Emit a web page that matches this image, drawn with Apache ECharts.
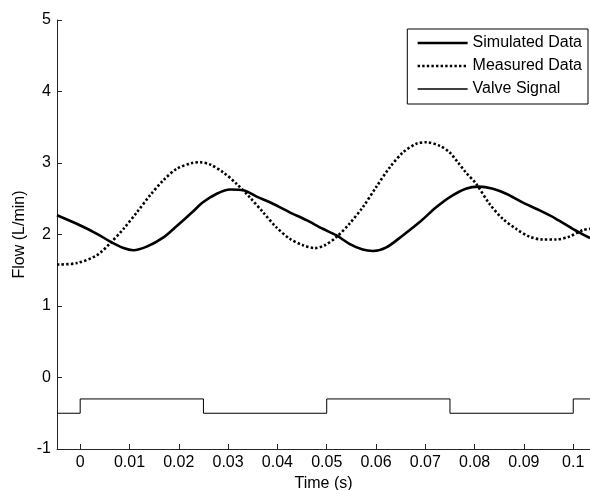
<!DOCTYPE html>
<html>
<head>
<meta charset="utf-8">
<script src="https://cdn.jsdelivr.net/npm/echarts@6/dist/echarts.min.js"></script>
<style>
  html, body { margin: 0; padding: 0; background: #fff; }
  #chart { width: 590px; height: 490px; }
</style>
</head>
<body>
<div id="chart"></div>
<script>
// Flow through the valve over time: simulated vs. measured, plus the valve command signal.
const simulatedData = [
  [-0.0047, 2.27], [-0.0007, 2.15], [0.0034, 2.01], [0.0061, 1.90], [0.0088, 1.81],
  [0.0108, 1.78], [0.0135, 1.83], [0.0169, 1.96], [0.0196, 2.12], [0.0227, 2.31],
  [0.0249, 2.45], [0.0277, 2.57], [0.0304, 2.63], [0.0331, 2.62], [0.0358, 2.53],
  [0.0391, 2.43], [0.0425, 2.31], [0.0459, 2.20], [0.0492, 2.08], [0.0519, 1.99],
  [0.0546, 1.87], [0.0573, 1.79], [0.0594, 1.77], [0.0621, 1.82], [0.0655, 1.99],
  [0.0688, 2.17], [0.0722, 2.38], [0.0749, 2.52], [0.0782, 2.64], [0.0809, 2.67],
  [0.0837, 2.64], [0.0864, 2.57], [0.0897, 2.45], [0.0931, 2.34], [0.0965, 2.22],
  [0.0999, 2.08], [0.1034, 1.95]
];

const measuredData = [
  [-0.0047, 1.58], [-0.0007, 1.60], [0.0034, 1.71], [0.0061, 1.88], [0.0088, 2.08],
  [0.0115, 2.31], [0.0142, 2.55], [0.0169, 2.76], [0.0196, 2.92], [0.0227, 3.00],
  [0.0243, 3.01], [0.0263, 2.98], [0.0290, 2.87], [0.0317, 2.71], [0.0344, 2.52],
  [0.0371, 2.31], [0.0398, 2.10], [0.0425, 1.94], [0.0452, 1.85], [0.0476, 1.81],
  [0.0496, 1.85], [0.0519, 1.96], [0.0546, 2.15], [0.0573, 2.38], [0.0600, 2.66],
  [0.0628, 2.94], [0.0655, 3.15], [0.0682, 3.27], [0.0702, 3.29], [0.0729, 3.24],
  [0.0749, 3.15], [0.0766, 3.01], [0.0782, 2.87], [0.0803, 2.71], [0.0830, 2.43],
  [0.0857, 2.22], [0.0884, 2.08], [0.0911, 1.97], [0.0938, 1.93], [0.0965, 1.93],
  [0.0992, 1.97], [0.1019, 2.06], [0.1034, 2.08]
];

// Valve signal: switches between -0.5 (closed) and -0.3 (open)
const valveTimes  = [-0.0047, 0, 0, 0.025, 0.025, 0.05, 0.05, 0.075, 0.075, 0.1, 0.1, 0.1034];
const valveLevels = [-0.5, -0.5, -0.3, -0.3, -0.5, -0.5, -0.3, -0.3, -0.5, -0.5, -0.3, -0.3];

const timeTicks = [0, 0.01, 0.02, 0.03, 0.04, 0.05, 0.06, 0.07, 0.08, 0.09, 0.1];
const timeTickLabels = ['0', '0.01', '0.02', '0.03', '0.04', '0.05', '0.06', '0.07', '0.08', '0.09', '0.1'];

const seriesNames = ['Simulated Data', 'Measured Data', 'Valve Signal'];

const FONT = 'Liberation Sans, Arial, sans-serif';
const axisColor = '#262626';
const THICK = 2.6;
const dotPattern = [2.4, 2.2];

const valveData = valveTimes.map((t, i) => [t, valveLevels[i]]);

const chart = echarts.init(document.getElementById('chart'), null, { renderer: 'canvas' });

chart.setOption({
  backgroundColor: '#ffffff',
  animation: false,
  textStyle: { fontFamily: FONT },
  grid: { left: 57, right: 0, top: 20, bottom: 41, containLabel: false, outerBoundsMode: 'none' },
  legend: {
    data: [
      { name: seriesNames[0], lineStyle: { width: THICK } },
      { name: seriesNames[1], lineStyle: { width: THICK, type: dotPattern } },
      { name: seriesNames[2], lineStyle: { width: 1.5, color: '#000' } }
    ],
    orient: 'vertical',
    right: 2,
    top: 29,
    itemWidth: 50,
    itemHeight: 16,
    itemGap: 7,
    padding: [6, 6, 7, 9],
    borderColor: '#000',
    borderWidth: 1,
    backgroundColor: '#fff',
    itemStyle: { opacity: 0 },
    textStyle: { fontFamily: FONT, fontSize: 16, color: '#000' }
  },
  xAxis: {
    type: 'value',
    min: -0.0047,
    max: 0.1034,
    name: 'Time (s)',
    nameLocation: 'middle',
    nameGap: 27,
    nameMoveOverlap: false,
    nameTextStyle: { fontFamily: FONT, fontSize: 16, color: '#000' },
    splitLine: { show: false },
    axisLine: { show: true, onZero: false, lineStyle: { color: axisColor, width: 1 } },
    axisTick: {
      show: true, inside: true, length: 5,
      customValues: timeTicks,
      lineStyle: { color: axisColor }
    },
    axisLabel: {
      customValues: timeTicks,
      margin: 6,
      fontFamily: FONT, fontSize: 16, color: '#000',
      formatter: (v) => {
        const i = timeTicks.findIndex(t => Math.abs(t - v) < 1e-9);
        return i >= 0 ? timeTickLabels[i] : '';
      }
    }
  },
  yAxis: {
    type: 'value',
    min: -1,
    max: 5,
    interval: 1,
    name: 'Flow (L/min)',
    nameLocation: 'middle',
    nameGap: 29,
    nameMoveOverlap: false,
    nameTextStyle: { fontFamily: FONT, fontSize: 16, color: '#000' },
    splitLine: { show: false },
    axisLine: { show: true, onZero: false, lineStyle: { color: axisColor, width: 1 } },
    axisTick: { show: true, inside: true, length: 5, lineStyle: { color: axisColor } },
    axisLabel: { margin: 6, fontFamily: FONT, fontSize: 16, color: '#000' }
  },
  series: [
    {
      name: seriesNames[0],
      type: 'line',
      data: simulatedData,
      symbol: 'none',
      smooth: 0.3,
      clip: true,
      lineStyle: { color: '#000', width: THICK },
      itemStyle: { color: '#000' },
      z: 3
    },
    {
      name: seriesNames[1],
      type: 'line',
      data: measuredData,
      symbol: 'none',
      smooth: 0.3,
      clip: true,
      lineStyle: { color: '#000', width: THICK, type: dotPattern, cap: 'butt' },
      itemStyle: { color: '#000' },
      z: 2
    },
    {
      name: seriesNames[2],
      type: 'line',
      data: valveData,
      symbol: 'none',
      clip: true,
      lineStyle: { color: '#000', width: 1 },
      itemStyle: { color: '#000' },
      z: 1
    }
  ]
});
</script>
</body>
</html>
